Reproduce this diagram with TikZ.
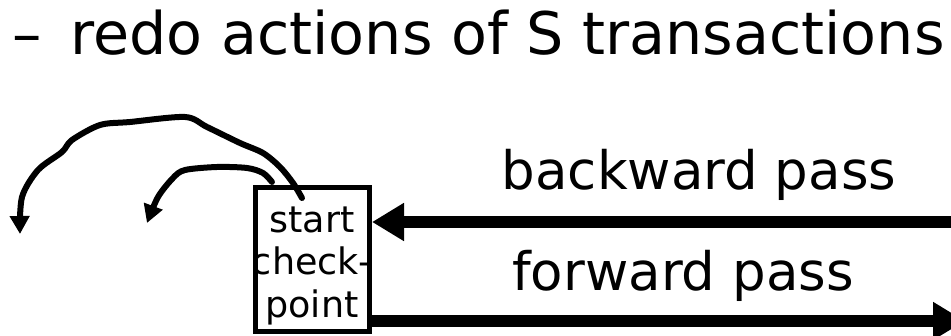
\documentclass[tikz,border=0pt]{standalone}
\usepackage{fontspec}
\setmainfont{DejaVu Sans}
\usetikzlibrary{arrows.meta}

\begin{document}
\begin{tikzpicture}[x=1pt, y=-1pt,
  pass/.style={line width=12pt, -{Triangle[length=32pt,width=36pt]}},
  redo/.style={line width=6pt, line join=round, line cap=round,
    -{Triangle[length=18pt,width=19pt]}},
  ckbox/.style={draw, line width=5pt, minimum width=114pt,
    minimum height=144pt, inner sep=0pt},
  lbl/.style={font=\fontsize{53}{60}\selectfont, anchor=base, inner sep=0pt}]

\useasboundingbox (0,0) rectangle (951,336);

\def\yb{222}  % backward pass
\def\yf{321}  % forward pass

%--- Heading ---
\node[anchor=base west, inner sep=0pt, font=\fontsize{58.7}{70}\selectfont]
  (head) at (12,55) {–\hspace{29pt}redo actions of S transactions};

%--- Checkpoint box ---
\node[ckbox] (ckpt) at (312.5,259.5) {};
\node[align=center, inner sep=0pt, font=\fontsize{36.5}{42.5}\selectfont]
  (ckptText) at (312,265.5) {start\\check-\\point};

%--- Passes ---
\coordinate (bwStart) at (960,\yb);
\coordinate (fwEnd) at (965,\yf);
\draw[pass] (bwStart) -- (bwStart -| ckpt.east);
\draw[pass] (fwEnd -| ckpt.east) -- (fwEnd);

\node[lbl] (bwLabel) at (699,190) {backward pass};
\node[lbl] (fwLabel) at (683,291) {forward pass};

%--- Redo arrows ---
\coordinate (bigTip) at (20,234);
\coordinate (smallTip) at (147,223);
\draw[redo] plot[smooth, tension=0.5] coordinates {(302,198) (293,183)
  (280,167) (263,153) (240,143) (207,127) (185,117) (130,122) (100,125)
  (72,140) (62,152) (38,170) (22,197) (bigTip)};
\draw[redo] plot[smooth, tension=0.5] coordinates {(272,182) (263,173)
  (247,168) (217,167) (185,170) (173,178) (158,197) (smallTip)};

\end{tikzpicture}
\end{document}
